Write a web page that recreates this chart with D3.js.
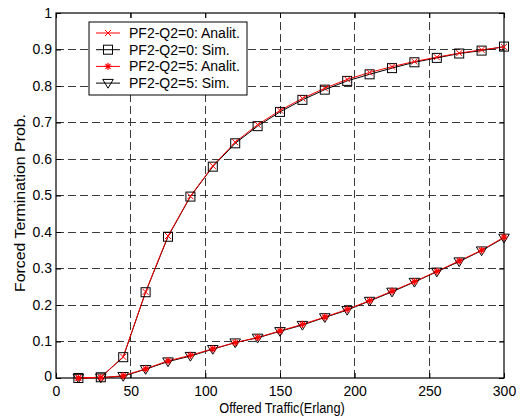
<!DOCTYPE html>
<html>
<head>
<meta charset="utf-8">
<script src="https://cdn.jsdelivr.net/npm/d3@7"></script>
<style>
  html, body { margin: 0; padding: 0; background: #fff; }
  svg { display: block; font-family: "Liberation Sans", Arial, sans-serif; }
</style>
</head>
<body>
<svg id="chart" width="520" height="416"></svg>
<script>
// Offered traffic (Erlang)
const traffic = [15, 30, 45, 60, 75, 90, 105, 120, 135, 150, 165, 180, 195, 210, 225, 240, 255, 270, 285, 300];

// Forced termination probability, PF2 with Q2 = 0
const q0Analit = [0, 0.002, 0.058, 0.236, 0.389, 0.498, 0.581, 0.646, 0.694, 0.733, 0.766, 0.794, 0.818, 0.837, 0.853, 0.867, 0.879, 0.890, 0.899, 0.907];
const q0Sim    = [0, 0.002, 0.057, 0.235, 0.387, 0.497, 0.579, 0.643, 0.690, 0.729, 0.762, 0.790, 0.814, 0.832, 0.849, 0.865, 0.877, 0.889, 0.897, 0.908];

// Forced termination probability, PF2 with Q2 = 5
const q5Analit = [0, 0.001, 0.006, 0.025, 0.047, 0.062, 0.080, 0.097, 0.111, 0.129, 0.147, 0.167, 0.188, 0.212, 0.238, 0.264, 0.292, 0.321, 0.350, 0.386];
const q5Sim    = [0, 0.001, 0.005, 0.024, 0.045, 0.060, 0.079, 0.097, 0.110, 0.128, 0.145, 0.166, 0.186, 0.211, 0.236, 0.263, 0.291, 0.319, 0.349, 0.384];

const xTicks = [0, 50, 100, 150, 200, 250, 300];
const yTicks = [0, 0.1, 0.2, 0.3, 0.4, 0.5, 0.6, 0.7, 0.8, 0.9, 1];

const legendLabels = ["PF2-Q2=0: Analit.", "PF2-Q2=0: Sim.", "PF2-Q2=5: Analit.", "PF2-Q2=5: Sim."];

const svg = d3.select("#chart");
const m = { left: 56, top: 13, right: 504, bottom: 378 };

const x = d3.scaleLinear().domain([0, 300]).range([m.left, m.right]);
const y = d3.scaleLinear().domain([0, 1]).range([m.bottom, m.top]);

// Dashed grid
const grid = svg.append("g").attr("stroke", "#3a3a3a").attr("stroke-width", 1)
  .attr("stroke-dasharray", "8,4").attr("shape-rendering", "crispEdges");
xTicks.slice(1, -1).forEach(t => {
  grid.append("line").attr("x1", x(t)).attr("x2", x(t)).attr("y1", m.bottom).attr("y2", m.top);
});
yTicks.slice(1, -1).forEach(t => {
  grid.append("line").attr("x1", m.left).attr("x2", m.right).attr("y1", y(t)).attr("y2", y(t));
});

// Axes with inward ticks on all four sides
const axisFont = g => g.selectAll("text").attr("font-size", 14).attr("fill", "#000")
  .attr("font-family", "Liberation Sans, Arial, sans-serif");
const axBottom = svg.append("g").attr("transform", `translate(0,${m.bottom})`)
  .call(d3.axisBottom(x).tickValues(xTicks).tickFormat(d3.format("d")).tickSizeInner(-5).tickSizeOuter(0).tickPadding(8));
axBottom.call(axisFont);
const axLeft = svg.append("g").attr("transform", `translate(${m.left},0)`)
  .call(d3.axisLeft(y).tickValues(yTicks).tickFormat(d => d === 0 || d === 1 ? d3.format("d")(d) : d3.format(".1f")(d)).tickSizeInner(-5).tickSizeOuter(0).tickPadding(4));
axLeft.call(axisFont);
const axTop = svg.append("g").attr("transform", `translate(0,${m.top})`)
  .call(d3.axisTop(x).tickValues(xTicks).tickFormat("").tickSizeInner(-5).tickSizeOuter(0));
const axRight = svg.append("g").attr("transform", `translate(${m.right},0)`)
  .call(d3.axisRight(y).tickValues(yTicks).tickFormat("").tickSizeInner(-5).tickSizeOuter(0));
[axBottom, axLeft, axTop, axRight].forEach(g => {
  g.select(".domain").remove();
  g.selectAll(".tick line").attr("stroke", "#000");
});
axLeft.selectAll(".tick text").filter(d => d === 0).attr("dy", "0.2em");

// Frame
svg.append("rect").attr("x", m.left).attr("y", m.top)
  .attr("width", m.right - m.left).attr("height", m.bottom - m.top)
  .attr("fill", "none").attr("stroke", "#000").attr("stroke-width", 1.2);

// Axis titles
svg.append("text").attr("transform", `translate(${(m.left + m.right) / 2 + 2},413) scale(0.85,1)`)
  .attr("text-anchor", "middle").attr("font-size", 15).text("Offered Traffic(Erlang)");
svg.append("text").attr("transform", `translate(25,203) rotate(-90) scale(1.06,1)`)
  .attr("text-anchor", "middle").attr("font-size", 15).text("Forced Termination Prob.");

// Marker shapes
const markers = {
  x: (g, s) => g.append("path").attr("d", `M${-s},${-s}L${s},${s}M${-s},${s}L${s},${-s}`)
    .attr("stroke", "#ff0000").attr("stroke-width", 1).attr("fill", "none"),
  square: (g, s) => g.append("rect").attr("x", -s).attr("y", -s).attr("width", 2 * s).attr("height", 2 * s)
    .attr("stroke", "#000").attr("stroke-width", 1).attr("fill", "none"),
  star: (g, s) => g.append("path")
    .attr("d", `M${-s},0L${s},0M0,${-s}L0,${s}M${-s * 0.7},${-s * 0.7}L${s * 0.7},${s * 0.7}M${-s * 0.7},${s * 0.7}L${s * 0.7},${-s * 0.7}`)
    .attr("stroke", "#ff0000").attr("stroke-width", 1.2).attr("fill", "none"),
  tri: (g, s) => g.append("path").attr("d", `M${-s * 1.15},${-s * 0.8}L${s * 1.15},${-s * 0.8}L0,${s * 1.1}Z`)
    .attr("stroke", "#000").attr("stroke-width", 1).attr("fill", "none")
};

const series = [
  { vals: q0Sim, color: "#000", marker: "square", size: 4.5 },
  { vals: q5Sim, color: "#000", marker: "tri", size: 4.6 },
  { vals: q0Analit, color: "#ff0000", marker: "x", size: 3 },
  { vals: q5Analit, color: "#ff0000", marker: "star", size: 3.6 }
];

const line = d3.line().x((d, i) => x(traffic[i])).y(d => y(d));
const plot = svg.append("g");
series.forEach(s => {
  plot.append("path").datum(s.vals).attr("d", line)
    .attr("fill", "none").attr("stroke", s.color).attr("stroke-width", 1);
});
series.forEach(s => {
  s.vals.forEach((v, i) => {
    const g = plot.append("g").attr("transform", `translate(${x(traffic[i])},${y(v)})`);
    markers[s.marker](g, s.size);
  });
});

// Legend
const lg = svg.append("g");
lg.append("rect").attr("x", 89).attr("y", 22).attr("width", 158).attr("height", 73)
  .attr("fill", "#fff").attr("stroke", "#000").attr("stroke-width", 1);
const legendSeries = [
  { color: "#ff0000", marker: "x", size: 3 },
  { color: "#000", marker: "square", size: 4.5 },
  { color: "#ff0000", marker: "star", size: 3.6 },
  { color: "#000", marker: "tri", size: 4.6 }
];
legendLabels.forEach((lab, i) => {
  const cy = 33 + i * 16.7;
  const s = legendSeries[i];
  lg.append("line").attr("x1", 96).attr("x2", 120).attr("y1", cy).attr("y2", cy)
    .attr("stroke", s.color).attr("stroke-width", 1);
  markers[s.marker](lg.append("g").attr("transform", `translate(108,${cy})`), s.size);
  lg.append("text").attr("x", 129).attr("y", cy).attr("dy", "0.36em")
    .attr("font-size", 14).text(lab);
});
</script>
</body>
</html>
